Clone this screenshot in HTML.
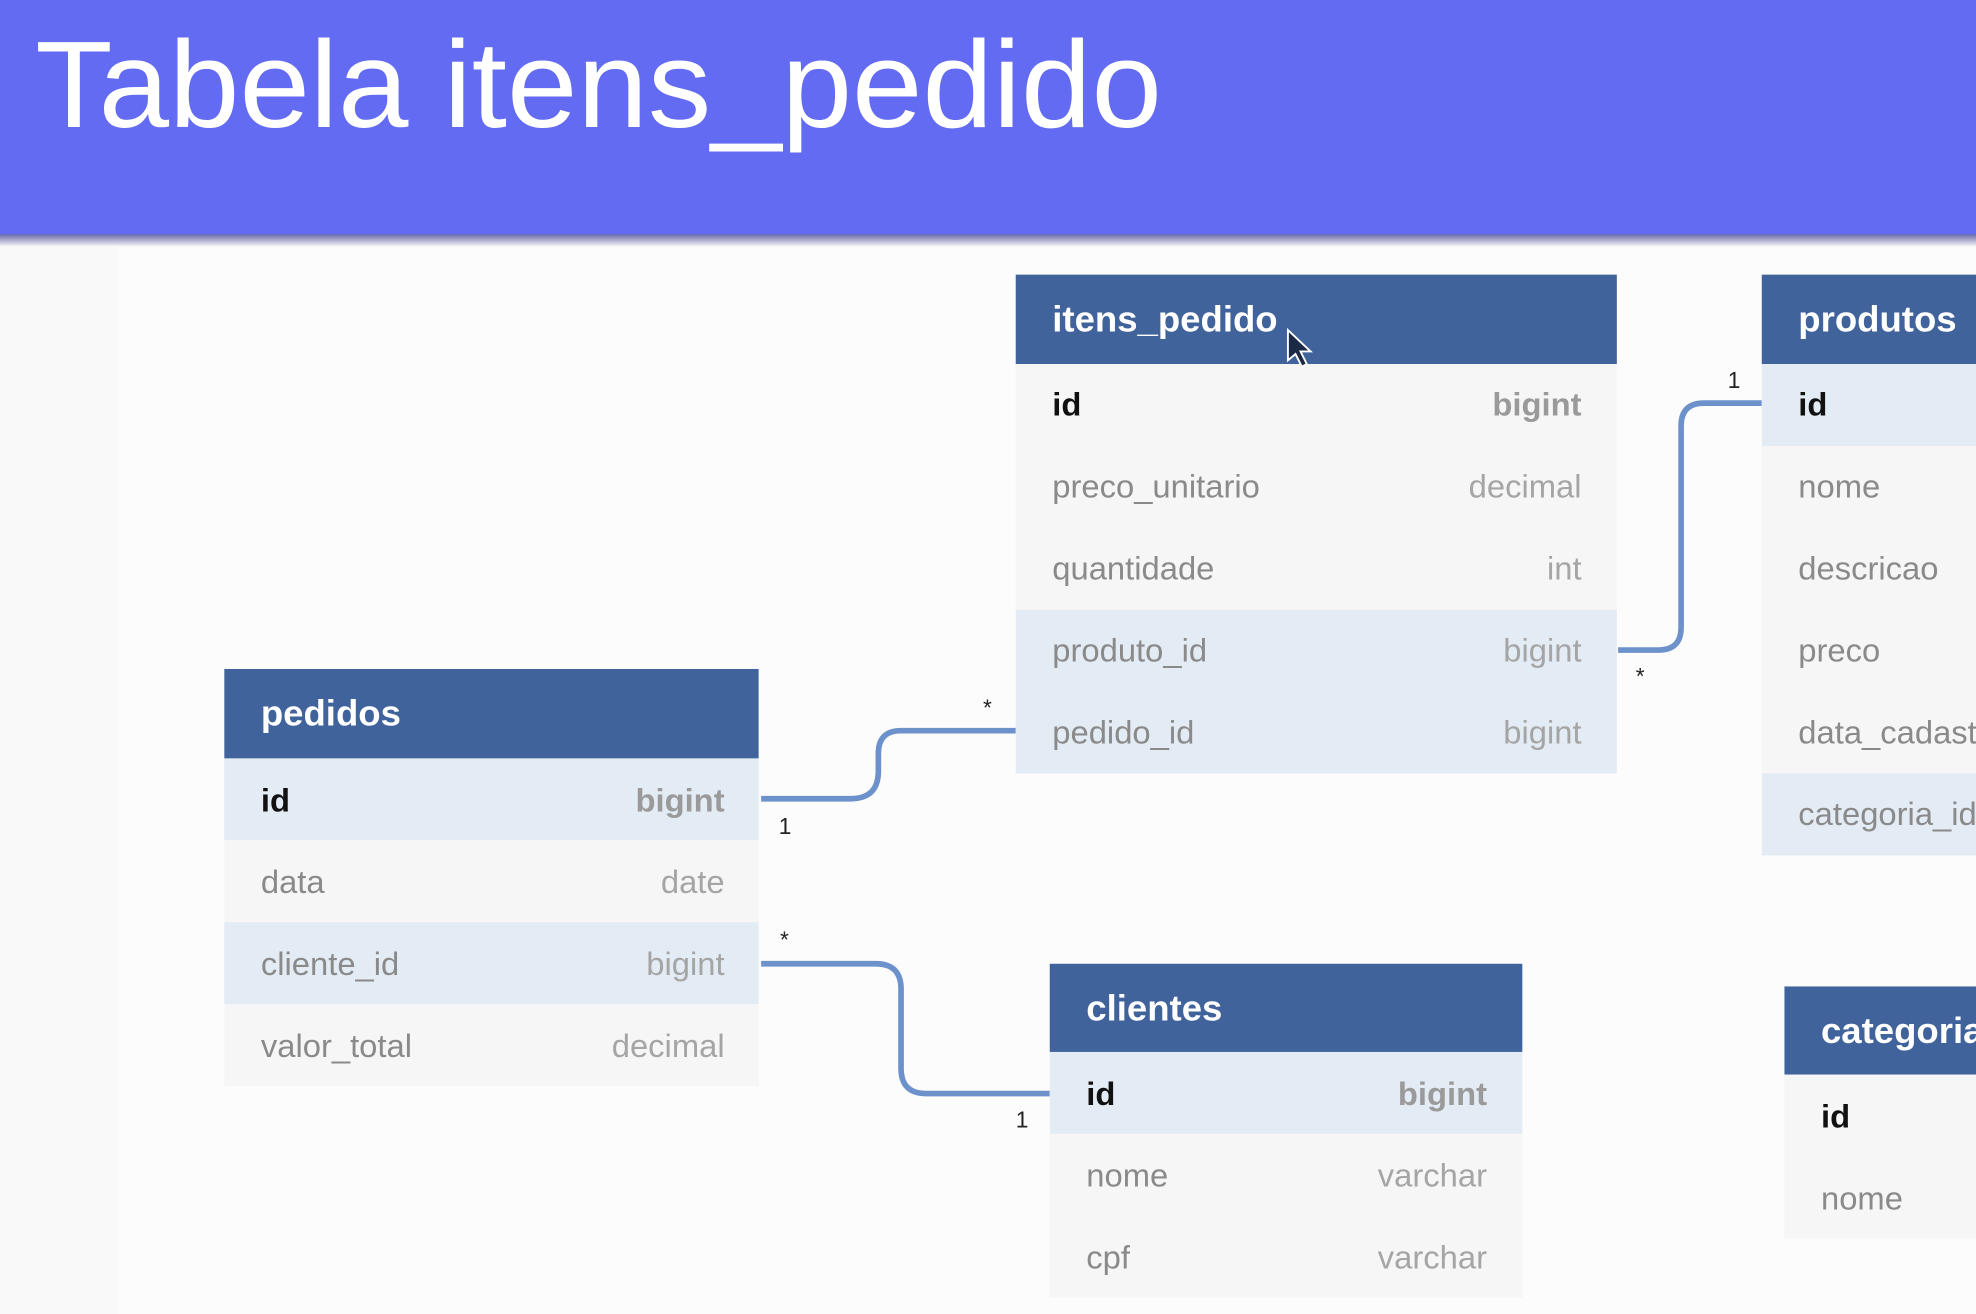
<!DOCTYPE html>
<html><head><meta charset="utf-8"><style>
html,body{margin:0;padding:0;background:#fcfcfc;}
svg{display:block}
</style></head><body>
<svg width="1976" height="1314" viewBox="0 0 1568 1043" preserveAspectRatio="none" xmlns="http://www.w3.org/2000/svg" font-family="Liberation Sans, sans-serif">
<defs>
<linearGradient id="sh" x1="0" y1="0" x2="0" y2="1"><stop offset="0" stop-color="#6a6aa8"/><stop offset="1" stop-color="#fcfcfc"/></linearGradient>
</defs>
<rect x="0" y="0" width="1568" height="1043" fill="#fcfcfc"/>
<rect x="0" y="195" width="94" height="848" fill="#f9f9f9"/>
<rect x="0" y="0" width="1568" height="188" fill="#636bf2"/>
<rect x="0" y="186" width="1568" height="10" fill="url(#sh)"/>
<text x="28" y="101" font-size="98" fill="#ffffff" textLength="894" lengthAdjust="spacingAndGlyphs">Tabela itens_pedido</text>

<g fill="none" stroke="#6d92cb" stroke-width="4.5">
<path d="M604 634 H675 Q697 634 697 612 V598 Q697 580 715 580 H806"/>
<path d="M604 765 H695 Q715 765 715 785 V848 Q715 868 735 868 H833"/>
<path d="M1284 516 H1316 Q1334 516 1334 498 V338 Q1334 320 1352 320 H1398"/>
</g>
<g font-size="18" fill="#222">
<text x="780" y="568">*</text>
<text x="618" y="662">1</text>
<text x="619" y="752">*</text>
<text x="806" y="895">1</text>
<text x="1371" y="308">1</text>
<text x="1298" y="543">*</text>
</g>

<g>
<rect x="806" y="218" width="477" height="71" fill="#41639c"/>
<text x="835" y="263" font-size="29" font-weight="bold" fill="#fff">itens_pedido</text>
<rect x="806" y="289" width="477" height="195" fill="#f6f6f6"/>
<rect x="806" y="484" width="477" height="130" fill="#e3ebf4"/>
<g font-size="26" fill="#8a8a8a">
<text x="835" y="330" fill="#111" font-weight="bold">id</text><text x="1255" y="330" text-anchor="end" font-weight="bold" fill="#9a9a9a">bigint</text>
<text x="835" y="395">preco_unitario</text><text x="1255" y="395" text-anchor="end" fill="#a5a5a5">decimal</text>
<text x="835" y="460">quantidade</text><text x="1255" y="460" text-anchor="end" fill="#a5a5a5">int</text>
<text x="835" y="525">produto_id</text><text x="1255" y="525" text-anchor="end" fill="#a5a5a5">bigint</text>
<text x="835" y="590">pedido_id</text><text x="1255" y="590" text-anchor="end" fill="#a5a5a5">bigint</text>
</g>
<path d="M1022 262 L1022 286 L1028 281 L1033 291 L1037 289 L1032 279 L1040 279 Z" fill="#1a2a44" stroke="#fff" stroke-width="1.5"/>
</g>

<g>
<rect x="1398" y="218" width="170" height="71" fill="#41639c"/>
<text x="1427" y="263" font-size="29" font-weight="bold" fill="#fff">produtos</text>
<rect x="1398" y="289" width="170" height="65" fill="#e3ebf4"/>
<rect x="1398" y="354" width="170" height="260" fill="#f6f6f6"/>
<rect x="1398" y="614" width="170" height="65" fill="#e3ebf4"/>
<g font-size="26" fill="#8a8a8a">
<text x="1427" y="330" fill="#111" font-weight="bold">id</text>
<text x="1427" y="395">nome</text>
<text x="1427" y="460">descricao</text>
<text x="1427" y="525">preco</text>
<text x="1427" y="590">data_cadastro</text>
<text x="1427" y="655">categoria_id</text>
</g>
</g>

<g>
<rect x="178" y="531" width="424" height="71" fill="#41639c"/>
<text x="207" y="576" font-size="29" font-weight="bold" fill="#fff">pedidos</text>
<rect x="178" y="602" width="424" height="65" fill="#e3ebf4"/>
<rect x="178" y="667" width="424" height="65" fill="#f6f6f6"/>
<rect x="178" y="732" width="424" height="65" fill="#e3ebf4"/>
<rect x="178" y="797" width="424" height="65" fill="#f6f6f6"/>
<g font-size="26" fill="#8a8a8a">
<text x="207" y="644" fill="#111" font-weight="bold">id</text><text x="575" y="644" text-anchor="end" font-weight="bold" fill="#9a9a9a">bigint</text>
<text x="207" y="709">data</text><text x="575" y="709" text-anchor="end" fill="#a5a5a5">date</text>
<text x="207" y="774">cliente_id</text><text x="575" y="774" text-anchor="end" fill="#a5a5a5">bigint</text>
<text x="207" y="839">valor_total</text><text x="575" y="839" text-anchor="end" fill="#a5a5a5">decimal</text>
</g>
</g>

<g>
<rect x="833" y="765" width="375" height="70" fill="#41639c"/>
<text x="862" y="810" font-size="29" font-weight="bold" fill="#fff">clientes</text>
<rect x="833" y="835" width="375" height="65" fill="#e3ebf4"/>
<rect x="833" y="900" width="375" height="130" fill="#f6f6f6"/>
<g font-size="26" fill="#8a8a8a">
<text x="862" y="877" fill="#111" font-weight="bold">id</text><text x="1180" y="877" text-anchor="end" font-weight="bold" fill="#9a9a9a">bigint</text>
<text x="862" y="942">nome</text><text x="1180" y="942" text-anchor="end" fill="#a5a5a5">varchar</text>
<text x="862" y="1007">cpf</text><text x="1180" y="1007" text-anchor="end" fill="#a5a5a5">varchar</text>
</g>
</g>

<g>
<rect x="1416" y="783" width="152" height="70" fill="#41639c"/>
<text x="1445" y="828" font-size="29" font-weight="bold" fill="#fff">categorias</text>
<rect x="1416" y="853" width="152" height="130" fill="#f6f6f6"/>
<g font-size="26" fill="#8a8a8a">
<text x="1445" y="895" fill="#111" font-weight="bold">id</text>
<text x="1445" y="960">nome</text>
</g>
</g>
</svg>
</body></html>
